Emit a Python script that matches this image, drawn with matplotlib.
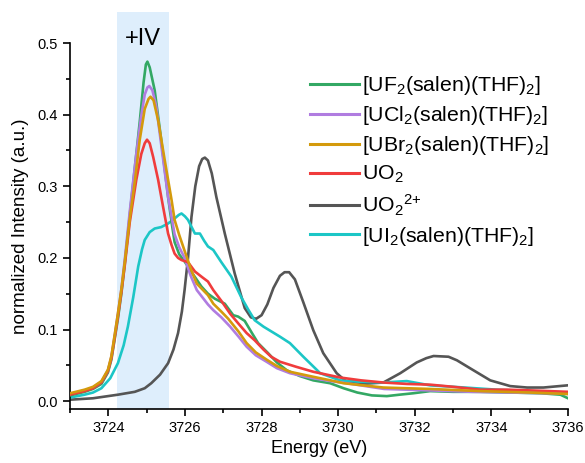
import matplotlib
matplotlib.use("Agg")
import matplotlib.pyplot as plt
from matplotlib.patches import Rectangle
from matplotlib.ticker import MultipleLocator

plt.rcParams['font.family'] = ['Liberation Sans', 'DejaVu Sans']
plt.rcParams['mathtext.default'] = 'regular'

labels = [r'[UF$_2$(salen)(THF)$_2$]', r'[UCl$_2$(salen)(THF)$_2$]',
          r'[UBr$_2$(salen)(THF)$_2$]', r'UO$_2$', r'UO$_2$$^{2{+}}$',
          r'[UI$_2$(salen)(THF)$_2$]']
colors = ['#33a864', '#b07ce0', '#d49a0c', '#f03c3c', '#555555', '#1cc6c6']

green_E = [3723.0, 3723.38, 3723.6, 3723.82, 3723.99, 3724.08, 3724.17, 3724.25, 3724.34, 3724.43,
           3724.56, 3724.7, 3724.82, 3724.92, 3724.98, 3725.02, 3725.08, 3725.21, 3725.38, 3725.56,
           3725.65, 3725.73, 3725.85, 3725.99, 3726.2, 3726.43, 3726.6, 3726.78, 3727.04, 3727.26,
           3727.39, 3727.56, 3727.75, 3727.91, 3728.17, 3728.4, 3728.66, 3729.0, 3729.35, 3729.79,
           3730.14, 3730.5, 3730.88, 3731.27, 3731.6, 3731.96, 3732.4, 3733.0, 3733.7, 3734.5,
           3735.3, 3735.8, 3736.0]
green_I = [0.008, 0.013, 0.017, 0.024, 0.040, 0.058, 0.088, 0.115, 0.150, 0.192,
           0.260, 0.330, 0.390, 0.445, 0.470, 0.474, 0.466, 0.434, 0.365, 0.285,
           0.250, 0.222, 0.205, 0.195, 0.178, 0.160, 0.150, 0.143, 0.136, 0.120,
           0.118, 0.112, 0.095, 0.081, 0.067, 0.054, 0.043, 0.035, 0.029, 0.025,
           0.018, 0.012, 0.008, 0.007, 0.009, 0.011, 0.014, 0.013, 0.013, 0.012,
           0.011, 0.009, 0.004]

purple_E = [3723.0, 3723.38, 3723.6, 3723.82, 3723.99, 3724.08, 3724.17, 3724.25, 3724.34, 3724.43,
            3724.56, 3724.73, 3724.85, 3724.95, 3725.02, 3725.07, 3725.15, 3725.25, 3725.4, 3725.56,
            3725.73, 3725.85, 3725.99, 3726.15, 3726.31, 3726.6, 3726.74, 3726.95, 3727.18, 3727.4,
            3727.61, 3727.85, 3728.13, 3728.4, 3728.74, 3729.35, 3729.8, 3730.22, 3731.2, 3732.4,
            3733.5, 3734.5, 3735.5, 3736.0]
purple_I = [0.010, 0.015, 0.019, 0.027, 0.043, 0.062, 0.093, 0.122, 0.156, 0.198,
            0.265, 0.345, 0.395, 0.428, 0.438, 0.440, 0.434, 0.412, 0.350, 0.285,
            0.233, 0.215, 0.200, 0.175, 0.155, 0.135, 0.127, 0.117, 0.104, 0.090,
            0.076, 0.064, 0.055, 0.046, 0.039, 0.032, 0.028, 0.025, 0.017, 0.015,
            0.013, 0.012, 0.011, 0.010]

orange_E = [3723.0, 3723.38, 3723.6, 3723.82, 3723.99, 3724.08, 3724.17, 3724.25, 3724.34, 3724.43,
            3724.56, 3724.7, 3724.82, 3724.95, 3725.05, 3725.1, 3725.18, 3725.30, 3725.47, 3725.65,
            3725.73, 3725.85, 3725.99, 3726.15, 3726.31, 3726.6, 3726.74, 3726.95, 3727.13, 3727.4,
            3727.61, 3727.85, 3728.13, 3728.4, 3728.74, 3729.35, 3729.8, 3730.14, 3731.18, 3732.4,
            3733.7, 3735.0, 3736.0]
orange_I = [0.011, 0.016, 0.020, 0.028, 0.044, 0.063, 0.094, 0.122, 0.156, 0.195,
            0.255, 0.310, 0.365, 0.408, 0.422, 0.425, 0.420, 0.392, 0.337, 0.281,
            0.253, 0.232, 0.210, 0.185, 0.164, 0.148, 0.136, 0.125, 0.115, 0.097,
            0.081, 0.068, 0.058, 0.049, 0.041, 0.034, 0.029, 0.025, 0.019, 0.017,
            0.014, 0.012, 0.010]

red_E = [3723.0, 3723.38, 3723.6, 3723.82, 3723.99, 3724.08, 3724.17, 3724.25, 3724.34, 3724.43,
         3724.56, 3724.73, 3724.86, 3724.95, 3725.01, 3725.08, 3725.17, 3725.30, 3725.43, 3725.56,
         3725.65, 3725.73, 3725.82, 3725.91, 3726.08, 3726.26, 3726.45, 3726.6, 3726.74, 3726.95,
         3727.18, 3727.4, 3727.61, 3727.82, 3728.05, 3728.25, 3728.48, 3728.9, 3729.35, 3730.05,
         3730.6, 3731.18, 3731.8, 3732.4, 3733.0, 3733.7, 3734.4, 3735.0, 3735.5, 3736.0]
red_I = [0.009, 0.014, 0.018, 0.026, 0.042, 0.060, 0.090, 0.118, 0.152, 0.190,
         0.250, 0.309, 0.345, 0.360, 0.365, 0.360, 0.341, 0.309, 0.271, 0.234,
         0.218, 0.206, 0.200, 0.197, 0.194, 0.181, 0.173, 0.167, 0.155, 0.140,
         0.122, 0.108, 0.095, 0.085, 0.072, 0.062, 0.055, 0.048, 0.041, 0.033,
         0.029, 0.026, 0.024, 0.023, 0.020, 0.016, 0.016, 0.015, 0.014, 0.013]

gray_E = [3723.0, 3723.6, 3724.25, 3724.69, 3724.95, 3725.12, 3725.35, 3725.56, 3725.7, 3725.82,
          3725.92, 3725.99, 3726.08, 3726.17, 3726.27, 3726.37, 3726.45, 3726.52, 3726.6, 3726.7,
          3726.82, 3727.04, 3727.30, 3727.56, 3727.72, 3727.86, 3728.0, 3728.15, 3728.31, 3728.48,
          3728.6, 3728.72, 3728.87, 3729.09, 3729.35, 3729.61, 3729.96, 3730.22, 3730.6, 3731.18,
          3731.62, 3732.05, 3732.3, 3732.49, 3732.88, 3733.1, 3733.44, 3733.97, 3734.49, 3734.93,
          3735.36, 3735.98]
gray_I = [0.002, 0.004, 0.009, 0.013, 0.018, 0.025, 0.037, 0.053, 0.072, 0.095,
          0.125, 0.155, 0.200, 0.257, 0.300, 0.328, 0.338, 0.340, 0.336, 0.318,
          0.285, 0.234, 0.178, 0.130, 0.117, 0.115, 0.120, 0.135, 0.158, 0.175,
          0.180, 0.180, 0.170, 0.138, 0.099, 0.067, 0.039, 0.027, 0.024, 0.026,
          0.039, 0.054, 0.060, 0.063, 0.062, 0.057, 0.046, 0.029, 0.021, 0.019,
          0.019, 0.022]

cyan_E = [3723.0, 3723.38, 3723.6, 3723.82, 3724.05, 3724.25, 3724.4, 3724.51, 3724.65, 3724.78,
          3724.88, 3724.95, 3725.08, 3725.21, 3725.38, 3725.56, 3725.73, 3725.84, 3725.91, 3726.0,
          3726.08, 3726.26, 3726.39, 3726.5, 3726.6, 3726.74, 3726.95, 3727.21, 3727.47, 3727.65,
          3727.82, 3728.05, 3728.48, 3728.74, 3729.09, 3729.53, 3730.05, 3730.6, 3731.18, 3731.79,
          3732.4, 3733.3, 3734.14, 3735.0, 3736.0]
cyan_I = [0.005, 0.009, 0.012, 0.018, 0.032, 0.053, 0.078, 0.104, 0.145, 0.188,
          0.212, 0.225, 0.236, 0.241, 0.243, 0.248, 0.255, 0.260, 0.262, 0.258,
          0.253, 0.234, 0.234, 0.224, 0.216, 0.211, 0.194, 0.174, 0.145, 0.128,
          0.113, 0.104, 0.090, 0.081, 0.062, 0.039, 0.029, 0.027, 0.026, 0.028,
          0.022, 0.019, 0.016, 0.014, 0.012]

shade_range = (3724.22, 3725.58)
shade_label = '+IV'

fig = plt.figure(figsize=(5.85, 4.63), dpi=100)
ax = fig.add_axes([0.1197, 0.1166, 0.8513, 0.7905])

series = [(green_E, green_I), (purple_E, purple_I), (orange_E, orange_I),
          (red_E, red_I), (gray_E, gray_I), (cyan_E, cyan_I)]
zorders = [3, 4, 6, 5, 2, 2.5]
handles = []
for (E, I), c, lab, z in zip(series, colors, labels, zorders):
    h, = ax.plot(E, I, color=c, lw=1.9, label=lab, zorder=z,
                 solid_joinstyle='round')
    handles.append(h)

ax.add_patch(Rectangle((shade_range[0], -0.011), shade_range[1] - shade_range[0], 0.554,
                       facecolor='#deeefc', edgecolor='none', zorder=0, clip_on=False))
ax.text(sum(shade_range) / 2, 0.506, shade_label, ha='center', va='center', fontsize=17)

ax.set_xlim(3723, 3736)
ax.set_ylim(-0.011, 0.5)
ax.xaxis.set_major_locator(MultipleLocator(2))
ax.xaxis.set_minor_locator(MultipleLocator(1))
ax.yaxis.set_major_locator(MultipleLocator(0.1))
ax.yaxis.set_minor_locator(MultipleLocator(0.05))
ax.set_xticks([3724, 3726, 3728, 3730, 3732, 3734, 3736])
ax.tick_params(which='major', direction='out', length=5, width=1.2, labelsize=10.5)
ax.tick_params(which='minor', direction='out', length=3, width=1.2)
for s in ['top', 'right']:
    ax.spines[s].set_visible(False)
for s in ['left', 'bottom']:
    ax.spines[s].set_linewidth(1.2)
ax.set_facecolor('none')

ax.set_xlabel('Energy (eV)', fontsize=13, labelpad=4)
ax.set_ylabel('normalized Intensity (a.u.)', fontsize=13.5, labelpad=6)

leg = ax.legend(handles=handles, loc='upper left', bbox_to_anchor=(299.5 / 585, 1 - 63.5 / 463),
                bbox_transform=fig.transFigure, frameon=False, fontsize=15.3,
                handlelength=2.3, handletextpad=0.14, labelspacing=0.33, borderpad=0)
for l in leg.get_lines():
    l.set_linewidth(2.2)

fig.savefig('out.png', dpi=100)
